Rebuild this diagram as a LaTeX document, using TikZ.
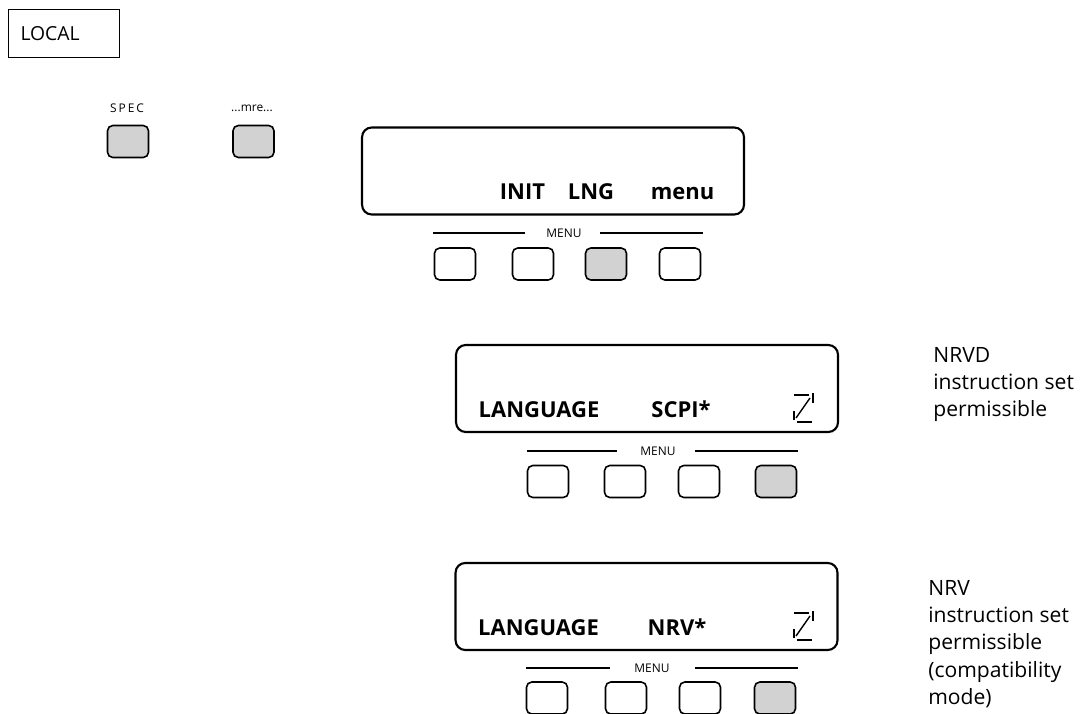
\documentclass[tikz,border=0pt]{standalone}
\usepackage{fontspec}
\setmainfont{Open Sans}
\begin{document}
\begin{tikzpicture}[x=0.02cm,y=-0.02cm,
  key/.style={draw,line width=0.9pt,rounded corners=3pt,minimum width=0.82cm,minimum height=0.64cm,inner sep=0pt},
  keyon/.style={key,fill=gray!35},
  lcd/.style={draw,line width=1.2pt,rounded corners=5.5pt,minimum width=7.64cm,minimum height=1.74cm,inner sep=0pt},
  lcdtext/.style={font=\bfseries\fontsize{12.5}{15}\selectfont,anchor=base,inner sep=0pt},
  tiny/.style={font=\fontsize{6.8}{8}\selectfont,inner sep=0pt},
  note/.style={font=\fontsize{12}{15.5}\selectfont,align=left,anchor=north west,inner sep=0pt}]
  \useasboundingbox (0,0) rectangle (1091,713);

  %local
  \node (local) [draw,line width=0.6pt,anchor=north west,minimum height=0.96cm,text width=1.74cm,inner xsep=0.24cm,font=\fontsize{11}{13}\selectfont] at (8,9) {LOCAL};

  %front keys
  \node (speclbl) [tiny] at (127,108) {S\,P\,E\,C};
  \node (mrelbl) [tiny] at (252,108) {...mre...};
  \node (spec) [keyon] at (128,141.5) {};
  \node (mre) [keyon] at (253.5,141.5) {};

  %display 1
  \node (lcdA) [lcd] at (553,171) {};
  \node (init) [lcdtext] at (522.5,199) {INIT};
  \node (lng) [lcdtext] at (591,199) {LNG};
  \node (menuA) [lcdtext] at (682.5,199) {menu};
  \node (menulblA) [tiny] at (564,233) {MENU};
  \draw[line width=0.7pt] (433,233) -- (525,233);
  \draw[line width=0.7pt] (600,233) -- (703,233);
  \node (keyA1) [key] at (455,264) {};
  \node (keyA2) [key] at (533,264) {};
  \node (keyA3) [keyon] at (606,264) {};
  \node (keyA4) [key] at (680,264) {};

  %display 2
  \node (lcdB) [lcd] at (647,388.5) {};
  \node (langB) [lcdtext] at (539,417) {LANGUAGE};
  \node (scpi) [lcdtext] at (681,417) {SCPI*};
  \coordinate (iconB) at (793,393);
  \draw[line width=0.8pt] (iconB) ++(1,2) -- ++(15,0);
  \draw[line width=0.8pt] (iconB) ++(20,0) -- ++(0,10);
  \draw[line width=0.8pt] (iconB) ++(3,25) -- ++(14,-20);
  \draw[line width=0.8pt] (iconB) ++(1,18) -- ++(0,9);
  \draw[line width=0.8pt] (iconB) ++(4,29) -- ++(15,0);
  \node (menulblB) [tiny] at (658,451) {MENU};
  \draw[line width=0.7pt] (527,451) -- (617,451);
  \draw[line width=0.7pt] (695,451) -- (798,451);
  \node (keyB1) [key] at (548,481.5) {};
  \node (keyB2) [key] at (625,481.5) {};
  \node (keyB3) [key] at (699,481.5) {};
  \node (keyB4) [keyon] at (776,481.5) {};
  \node (noteB) [note] at (933,347) {NRVD\\instruction set\\permissible};

  %display 3
  \node (lcdC) [lcd] at (646.5,606.5) {};
  \node (langC) [lcdtext] at (538.5,635) {LANGUAGE};
  \node (nrv) [lcdtext] at (677,635) {NRV*};
  \coordinate (iconC) at (793,611);
  \draw[line width=0.8pt] (iconC) ++(1,2) -- ++(15,0);
  \draw[line width=0.8pt] (iconC) ++(20,0) -- ++(0,10);
  \draw[line width=0.8pt] (iconC) ++(3,25) -- ++(14,-20);
  \draw[line width=0.8pt] (iconC) ++(1,18) -- ++(0,9);
  \draw[line width=0.8pt] (iconC) ++(4,29) -- ++(15,0);
  \node (menulblC) [tiny] at (652,668) {MENU};
  \draw[line width=0.7pt] (526,668) -- (610,668);
  \draw[line width=0.7pt] (695,668) -- (798,668);
  \node (keyC1) [key] at (547,698) {};
  \node (keyC2) [key] at (626,698) {};
  \node (keyC3) [key] at (700,698) {};
  \node (keyC4) [keyon] at (775,698) {};
  \node (noteC) [note] at (928,580) {NRV\\instruction set\\permissible\\(compatibility\\mode)};
\end{tikzpicture}
\end{document}
